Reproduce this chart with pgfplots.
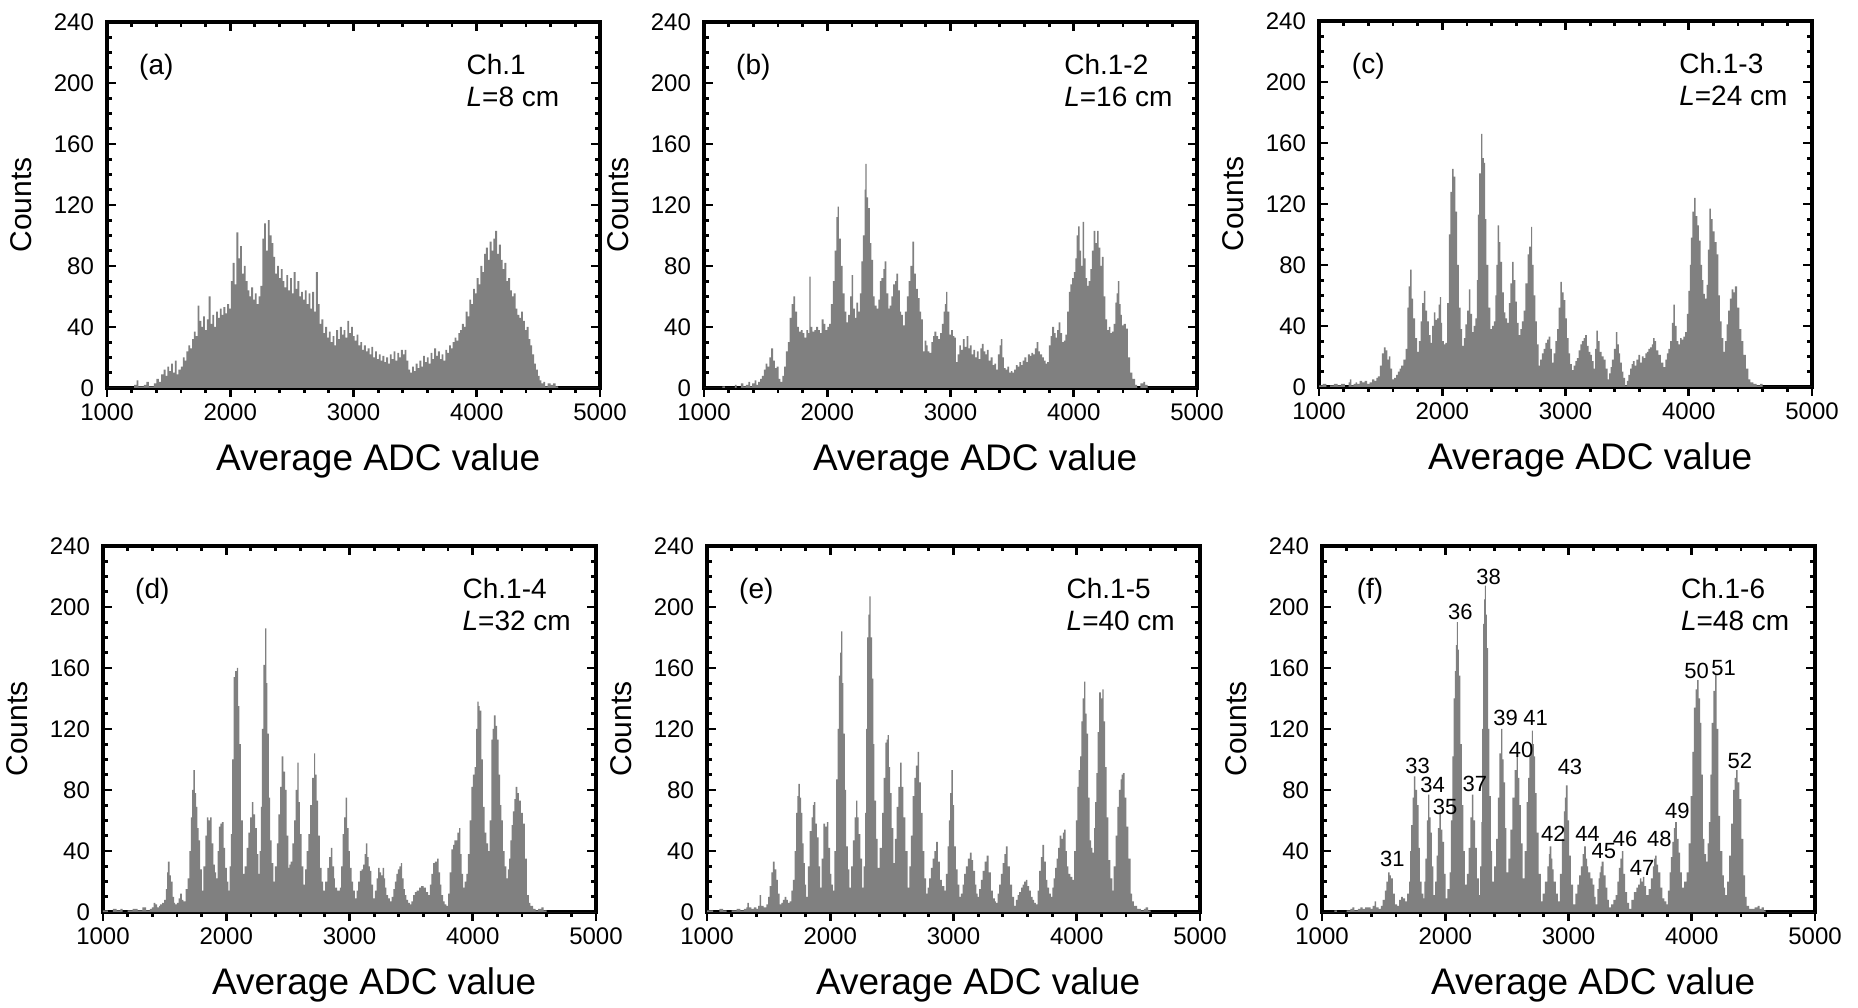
\documentclass[border=0pt]{standalone}
\usepackage{fontspec}
\setmainfont{Liberation Sans}
\usepackage{pgfplots}
\usepackage{pgfplotstable}
\pgfplotsset{compat=1.18}
\definecolor{histgray}{RGB}{128,128,128}

\pgfplotstableread{
x y
1000 0
1220 2
1240 5
1255 1
1300 2
1320 4
1340 1
1380 3
1400 6
1420 4
1440 9
1460 12
1475 8
1490 14
1505 11
1520 16
1535 10
1550 18
1565 9
1580 12
1600 14
1615 20
1630 18
1645 24
1660 28
1675 26
1690 32
1705 37
1720 34
1735 54
1750 44
1765 40
1780 47
1795 38
1810 45
1825 60
1840 42
1855 48
1870 40
1885 50
1900 46
1915 52
1930 48
1945 53
1960 49
1975 55
1990 52
2005 70
2020 82
2035 68
2050 102
2065 85
2080 93
2095 75
2110 80
2125 70
2140 64
2155 60
2170 66
2185 58
2200 62
2215 55
2230 60
2245 67
2260 98
2275 108
2290 90
2305 110
2320 100
2335 95
2350 86
2365 75
2380 80
2395 72
2410 78
2425 70
2440 66
2455 74
2470 64
2485 72
2500 62
2515 76
2530 65
2545 70
2560 60
2575 63
2590 58
2605 64
2620 55
2635 62
2650 52
2665 63
2680 50
2695 76
2710 55
2725 42
2740 45
2755 36
2770 40
2785 33
2800 37
2815 30
2830 34
2845 28
2860 38
2875 32
2890 40
2905 35
2920 38
2935 33
2950 44
2965 36
2980 40
2995 34
3010 31
3025 35
3040 28
3055 30
3070 25
3085 28
3100 24
3115 26
3130 22
3145 27
3160 20
3175 24
3190 19
3205 22
3220 18
3235 21
3250 17
3265 20
3280 16
3295 22
3310 19
3325 24
3340 18
3355 23
3370 20
3385 25
3400 22
3415 25
3430 18
3445 12
3460 10
3475 14
3490 11
3505 16
3520 13
3535 18
3550 14
3565 21
3580 17
3595 20
3610 16
3625 23
3640 19
3655 26
3670 21
3685 24
3700 19
3715 22
3730 18
3745 25
3760 23
3775 28
3790 26
3805 30
3820 33
3835 31
3850 36
3865 38
3880 42
3895 40
3910 50
3925 47
3940 58
3955 55
3970 65
3985 62
4000 72
4015 68
4030 80
4045 76
4060 88
4075 92
4090 84
4105 96
4120 90
4135 98
4150 103
4165 88
4180 94
4195 84
4210 78
4225 82
4240 70
4255 72
4270 64
4285 60
4300 62
4315 52
4330 48
4345 46
4360 50
4375 44
4390 38
4405 40
4420 32
4435 28
4450 22
4465 16
4480 12
4495 8
4510 5
4525 3
4540 4
4555 1
4575 3
4600 2
4620 3
4640 1
4660 0
5000 0
}\dataA

\pgfplotstableread{
x y
1000 0
1150 1
1170 0
1250 2
1265 0
1300 3
1320 1
1340 2
1360 4
1375 1
1390 3
1410 5
1425 2
1440 4
1455 6
1470 8
1485 12
1500 16
1515 14
1530 20
1545 26
1560 18
1575 13
1590 14
1605 6
1620 4
1635 8
1650 14
1665 24
1680 30
1695 46
1710 55
1725 60
1740 50
1755 40
1770 37
1785 38
1800 36
1815 33
1830 38
1845 36
1855 73
1865 40
1880 37
1895 38
1910 40
1925 38
1940 36
1955 45
1970 42
1985 38
2000 40
2015 42
2030 55
2045 70
2060 90
2075 112
2085 119
2095 98
2110 80
2125 62
2140 50
2155 43
2170 48
2185 60
2197 74
2210 52
2225 46
2237 56
2250 50
2264 62
2277 83
2290 100
2303 130
2310 147
2320 125
2331 118
2345 95
2358 84
2372 60
2385 54
2400 52
2415 58
2426 70
2440 72
2455 78
2466 83
2480 62
2495 52
2506 54
2520 60
2535 68
2550 70
2560 75
2575 64
2590 50
2600 48
2614 41
2630 50
2645 60
2660 70
2675 80
2690 96
2705 75
2720 65
2735 59
2750 50
2762 45
2775 24
2790 31
2805 28
2815 24
2829 23
2845 30
2858 34
2870 37
2885 34
2900 32
2915 36
2930 42
2945 50
2955 55
2964 63
2975 50
2990 35
3005 38
3020 34
3031 33
3044 17
3058 22
3071 28
3085 25
3100 32
3115 27
3130 34
3145 26
3158 28
3172 22
3186 25
3200 20
3214 24
3228 19
3242 26
3255 29
3268 24
3282 22
3296 25
3310 18
3325 20
3341 15
3355 16
3370 12
3385 22
3398 28
3408 32
3420 20
3434 13
3448 12
3462 14
3476 10
3490 11
3502 10
3516 12
3530 15
3545 14
3558 17
3572 15
3586 18
3600 20
3615 17
3628 22
3643 21
3656 23
3670 22
3684 26
3698 30
3712 24
3726 22
3744 20
3758 18
3772 16
3784 17
3798 28
3812 34
3825 40
3840 36
3853 33
3866 38
3878 43
3892 36
3905 30
3919 31
3933 35
3946 50
3960 63
3973 68
3986 72
4000 76
4013 85
4024 100
4035 106
4048 90
4060 80
4072 109
4085 85
4096 72
4108 67
4120 70
4135 78
4148 90
4162 103
4175 95
4189 103
4202 92
4215 80
4229 86
4242 60
4256 45
4270 38
4284 40
4297 36
4310 37
4323 42
4337 56
4348 62
4358 70
4370 55
4380 48
4390 41
4405 42
4423 39
4440 20
4458 10
4475 6
4498 2
4515 0
4540 3
4565 4
4580 2
4600 0
5000 0
}\dataB

\pgfplotstableread{
x y
1000 1
1030 2
1060 0
1090 1
1120 2
1150 1
1180 2
1210 0
1240 3
1251 5
1262 1
1280 2
1297 3
1310 2
1330 4
1350 3
1370 4
1390 2
1410 3
1430 5
1450 4
1465 6
1478 7
1494 14
1510 22
1527 26
1540 24
1555 18
1567 20
1580 12
1594 5
1610 6
1625 8
1640 10
1655 12
1667 14
1685 18
1702 25
1716 52
1728 66
1740 77
1752 58
1764 45
1780 32
1797 23
1810 30
1824 43
1837 55
1850 63
1863 50
1878 43
1892 34
1905 29
1918 40
1932 49
1945 44
1959 45
1970 54
1980 59
1990 42
1999 30
2013 28
2026 29
2040 55
2053 100
2066 128
2080 143
2093 138
2107 115
2120 80
2134 52
2148 38
2161 27
2175 32
2188 41
2202 50
2215 64
2228 48
2242 36
2255 40
2269 45
2280 70
2288 113
2300 140
2315 166
2326 150
2337 147
2348 110
2358 80
2375 52
2391 38
2405 40
2418 43
2430 60
2440 80
2450 106
2461 95
2472 82
2485 62
2499 49
2512 45
2526 42
2540 55
2553 68
2566 82
2580 70
2593 56
2606 42
2620 34
2633 38
2646 43
2660 50
2675 68
2693 87
2705 92
2720 105
2730 80
2742 60
2755 43
2768 28
2782 14
2795 18
2809 22
2823 25
2837 29
2850 31
2863 33
2877 25
2890 16
2904 22
2917 30
2931 38
2945 52
2958 69
2970 62
2985 57
2998 45
3012 32
3025 22
3038 15
3052 11
3066 14
3080 17
3093 19
3106 24
3120 28
3133 30
3147 32
3160 34
3174 27
3188 23
3201 21
3214 17
3228 12
3240 25
3250 37
3263 30
3277 23
3293 20
3309 18
3325 12
3341 5
3354 9
3365 13
3376 18
3392 25
3408 36
3420 28
3432 22
3444 16
3458 10
3470 6
3484 1
3497 4
3511 8
3525 12
3537 15
3546 17
3560 14
3575 18
3592 21
3605 16
3620 20
3633 19
3647 22
3660 23
3673 25
3686 26
3700 28
3710 32
3722 30
3735 24
3754 21
3774 16
3794 13
3810 18
3822 22
3835 25
3848 30
3862 42
3875 54
3888 40
3902 30
3915 28
3929 32
3943 31
3956 33
3970 36
3984 48
3997 63
4008 80
4018 98
4030 115
4043 124
4056 112
4069 106
4083 96
4097 80
4108 70
4118 61
4130 58
4145 67
4156 90
4167 117
4180 110
4194 102
4210 95
4226 87
4240 60
4253 43
4266 32
4280 23
4293 30
4307 41
4320 50
4334 58
4348 64
4362 62
4375 66
4392 52
4410 38
4426 30
4443 21
4463 12
4483 5
4500 3
4524 2
4550 1
4578 2
4600 0
5000 0
}\dataC

\pgfplotstableread{
x y
1000 1
1040 0
1080 2
1110 1
1140 2
1160 0
1200 1
1240 2
1280 1
1320 3
1350 1
1380 2
1397 3
1410 6
1424 5
1440 3
1455 4
1464 5
1480 6
1495 8
1510 15
1520 26
1527 33
1540 24
1551 20
1565 10
1578 6
1586 5
1600 6
1614 9
1626 12
1640 8
1653 7
1670 15
1686 22
1700 40
1713 62
1724 80
1734 93
1745 78
1756 69
1765 55
1775 47
1788 28
1802 14
1815 30
1830 50
1842 62
1855 60
1869 62
1882 45
1896 31
1908 26
1918 22
1930 40
1940 56
1952 58
1964 59
1978 42
1991 29
2005 20
2018 14
2028 30
2037 51
2048 100
2059 154
2072 158
2086 160
2096 135
2107 110
2118 60
2134 25
2150 30
2166 42
2180 52
2194 62
2207 72
2220 64
2234 55
2248 38
2261 25
2271 40
2280 69
2290 120
2301 162
2315 186
2325 150
2334 117
2345 75
2355 47
2368 32
2382 20
2395 30
2410 45
2423 64
2437 82
2450 102
2463 92
2477 80
2490 50
2504 29
2513 31
2523 33
2537 45
2550 60
2563 80
2577 98
2588 72
2598 51
2612 30
2625 18
2640 28
2653 40
2666 51
2680 70
2697 88
2712 104
2722 90
2733 73
2746 50
2760 29
2773 20
2787 14
2803 20
2820 29
2835 36
2849 42
2862 30
2875 22
2882 16
2900 14
2922 16
2933 30
2944 51
2956 62
2968 75
2980 55
2992 40
3003 29
3018 20
3030 14
3044 9
3058 14
3071 20
3084 27
3098 28
3111 31
3122 38
3133 45
3145 36
3155 30
3165 27
3178 18
3192 9
3205 14
3220 22
3233 29
3245 26
3256 24
3268 29
3280 22
3290 16
3300 11
3313 9
3327 7
3342 10
3355 15
3368 20
3381 25
3392 28
3405 30
3416 32
3428 22
3440 15
3449 11
3462 8
3475 6
3489 5
3502 7
3516 11
3530 13
3545 14
3564 16
3582 17
3602 16
3620 13
3638 11
3652 18
3665 25
3678 32
3692 33
3711 35
3724 26
3736 18
3746 11
3760 7
3772 5
3786 4
3800 12
3813 26
3827 41
3840 44
3851 47
3862 47
3875 52
3889 55
3900 38
3910 25
3921 16
3935 20
3948 25
3960 38
3975 60
3989 82
4002 90
4016 95
4027 120
4037 138
4047 135
4056 132
4070 100
4083 69
4097 52
4110 45
4124 40
4137 60
4151 113
4162 120
4172 129
4185 122
4197 113
4210 90
4222 70
4232 60
4245 40
4258 30
4272 22
4285 28
4295 35
4305 47
4316 57
4326 66
4337 74
4348 82
4362 78
4375 73
4390 65
4407 58
4422 35
4440 11
4455 6
4467 4
4490 2
4510 1
4530 2
4556 3
4575 1
4600 0
5000 0
}\dataD

\pgfplotstableread{
x y
1000 1
1050 0
1100 2
1130 1
1160 0
1200 1
1240 2
1270 1
1300 2
1319 3
1327 6
1340 3
1360 2
1380 3
1400 2
1414 4
1427 11
1440 4
1460 3
1481 5
1495 10
1508 17
1522 26
1535 33
1548 28
1562 21
1575 12
1589 5
1603 6
1616 8
1629 10
1643 8
1656 6
1670 7
1684 14
1697 21
1710 40
1724 65
1734 76
1742 84
1753 75
1764 65
1774 45
1783 32
1794 18
1805 10
1818 30
1832 53
1848 62
1858 70
1867 72
1880 58
1891 49
1905 30
1918 16
1930 35
1945 58
1958 56
1972 59
1985 42
1999 25
2010 18
2021 14
2034 40
2048 87
2059 120
2070 155
2080 170
2088 184
2098 150
2107 117
2118 80
2129 43
2142 28
2156 16
2170 30
2183 47
2197 62
2210 73
2220 62
2231 51
2245 35
2258 16
2270 30
2283 65
2291 120
2299 180
2309 195
2318 207
2328 180
2340 153
2350 110
2358 73
2372 48
2385 29
2400 42
2420 65
2434 88
2447 111
2457 113
2466 116
2476 95
2485 78
2498 55
2512 32
2525 48
2539 69
2552 82
2566 98
2580 82
2593 62
2610 40
2628 16
2642 30
2655 50
2669 76
2682 88
2695 96
2709 105
2722 85
2736 65
2750 40
2764 22
2777 12
2790 16
2803 22
2817 29
2830 35
2845 40
2858 46
2874 33
2890 21
2905 17
2925 14
2938 25
2952 43
2962 60
2972 78
2982 93
2994 70
3006 43
3020 28
3033 18
3047 10
3060 12
3073 18
3087 25
3100 30
3117 35
3133 39
3147 34
3160 27
3175 18
3186 12
3195 10
3208 15
3222 21
3236 27
3252 33
3268 37
3285 26
3303 14
3320 9
3335 7
3344 6
3358 12
3370 18
3384 25
3398 32
3412 38
3425 43
3440 30
3457 18
3475 10
3492 4
3507 8
3520 11
3533 13
3548 16
3560 18
3573 20
3587 21
3600 17
3614 14
3627 10
3641 8
3655 6
3668 5
3682 14
3695 27
3708 36
3722 44
3735 33
3749 21
3762 16
3775 12
3789 10
3802 16
3813 22
3824 29
3836 35
3849 42
3862 50
3875 48
3887 52
3897 54
3910 40
3920 30
3932 25
3948 23
3965 21
3978 40
3992 60
4005 82
4016 93
4027 102
4038 125
4048 140
4059 151
4070 130
4081 117
4093 75
4105 47
4116 42
4127 39
4140 55
4150 72
4159 91
4170 118
4181 144
4195 140
4208 146
4219 125
4230 95
4243 62
4256 34
4272 22
4289 14
4300 30
4315 50
4329 69
4342 80
4356 87
4365 90
4375 91
4388 75
4402 56
4418 35
4437 12
4450 7
4464 4
4490 2
4520 1
4545 2
4559 3
4580 1
4600 0
5000 0
}\dataE

\pgfplotstableread{
x y
1000 0
1100 1
1120 0
1200 1
1230 2
1247 3
1262 1
1290 2
1312 3
1330 2
1350 3
1378 3
1395 2
1410 4
1427 7
1440 3
1460 2
1477 4
1492 8
1510 14
1522 20
1536 26
1548 24
1559 22
1575 12
1592 5
1610 4
1625 8
1641 10
1657 9
1674 7
1690 12
1707 20
1715 40
1723 57
1735 75
1746 89
1758 80
1772 70
1784 42
1795 20
1808 12
1822 9
1830 20
1838 35
1850 60
1861 77
1871 62
1881 52
1892 30
1904 11
1917 20
1930 37
1941 55
1953 65
1965 54
1976 46
1990 25
2003 9
2018 15
2035 26
2046 60
2058 102
2068 140
2078 158
2087 175
2095 190
2103 172
2111 155
2122 110
2134 70
2147 40
2160 18
2175 25
2190 42
2203 62
2216 77
2229 60
2242 42
2257 22
2272 11
2282 30
2292 59
2300 120
2308 189
2315 205
2321 214
2330 195
2338 173
2348 120
2358 76
2370 40
2380 20
2396 30
2413 48
2427 75
2440 104
2453 120
2463 100
2473 85
2485 55
2496 26
2512 35
2529 54
2545 75
2562 93
2578 102
2590 88
2601 70
2614 45
2627 22
2643 40
2660 72
2672 88
2683 102
2693 110
2703 119
2711 110
2719 102
2730 78
2742 52
2758 25
2775 7
2790 12
2808 20
2828 30
2840 38
2847 43
2860 35
2870 28
2880 20
2897 12
2913 7
2930 25
2946 48
2962 66
2970 75
2979 83
2992 60
3005 37
3020 18
3038 5
3055 12
3071 18
3087 24
3100 30
3115 38
3127 43
3140 35
3150 30
3160 26
3178 22
3196 18
3210 10
3219 5
3235 15
3245 22
3252 26
3260 30
3268 33
3285 24
3301 16
3315 8
3327 3
3345 5
3365 8
3383 11
3397 20
3409 29
3421 35
3433 40
3446 25
3459 13
3475 6
3492 2
3510 8
3531 13
3550 16
3565 18
3580 22
3592 20
3603 23
3616 17
3630 11
3650 15
3669 22
3685 30
3695 35
3702 37
3715 31
3728 26
3745 16
3761 9
3778 7
3794 5
3807 14
3820 26
3831 36
3843 46
3855 55
3866 59
3880 48
3893 39
3906 26
3919 16
3938 20
3958 26
3975 45
3991 76
4004 105
4018 134
4031 146
4044 152
4056 140
4067 124
4078 90
4090 48
4103 38
4117 33
4128 45
4139 59
4150 90
4162 124
4175 145
4189 156
4202 120
4215 63
4230 40
4248 24
4260 16
4271 11
4287 20
4303 37
4320 58
4336 80
4348 88
4360 93
4373 85
4386 74
4402 48
4418 24
4432 10
4445 4
4465 2
4484 2
4510 3
4534 4
4550 2
4566 3
4585 1
4600 0
5000 0
}\dataF

\tikzset{
  lab/.style={font=\fontsize{14}{16}\selectfont, inner sep=0pt},
  pk/.style={font=\fontsize{11}{13}\selectfont, inner sep=0pt},
}

\pgfplotsset{
  baseax/.style={
    scale only axis, width=246.5pt, height=183pt,
    xmin=1000, xmax=5000, ymin=0, ymax=240,
    anchor=south west,
    axis line style={line width=1.8pt},
    every tick/.style={line width=1.4pt, black},
    major tick length=4.5pt, minor tick length=2.3pt,
    xtick={1000,2000,3000,4000,5000},
    minor x tick num=4,
  },
  mainax/.style={
    baseax,
    tick align=inside,
    ytick={0,40,80,120,160,200,240},
    minor y tick num=3,
    xtick pos=right, xticklabel pos=left,
    ytick pos=both, yticklabel pos=left,
    scaled ticks=false,
    /pgf/number format/assume math mode=true,
    /pgf/number format/set thousands separator={},
    ticklabel style={font=\fontsize{12}{14}\selectfont},
    xticklabel style={yshift=-4.5pt},
    yticklabel style={xshift=-3pt},
    xlabel={Average ADC value},
    ylabel={Counts},
    xlabel style={font=\fontsize{18.5}{21}\selectfont, at={(axis description cs:0.55,-0.2)}, anchor=center},
    ylabel style={font=\fontsize{15}{18}\selectfont, at={(axis description cs:-0.1744,0.5)}, anchor=center},
  },
  overax/.style={
    baseax,
    tick align=outside,
    xtick pos=left, xticklabels={},
    ytick=\empty,
    axis line style={draw=none},
  },
  hist/.style={const plot, fill=histgray, draw=none},
}

\begin{document}
\begin{tikzpicture}
\useasboundingbox (0,0) rectangle (929pt,503.5pt);

% (a)
\begin{axis}[overax, at={(53.5pt,309.5pt)}]\end{axis}
\begin{axis}[mainax, at={(53.5pt,309.5pt)}]
\addplot[hist] table {\dataA} \closedcycle;
\node[lab] at (axis cs:1400,210) {(a)};
\node[lab, anchor=west] at (axis cs:3915,212) {Ch.1};
\node[lab, anchor=west] at (axis cs:3915,191) {\textit{L}=8 cm};
\end{axis}

% (b)
\begin{axis}[overax, at={(352pt,309.5pt)}]\end{axis}
\begin{axis}[mainax, at={(352pt,309.5pt)}]
\addplot[hist] table {\dataB} \closedcycle;
\node[lab] at (axis cs:1400,210) {(b)};
\node[lab, anchor=west] at (axis cs:3920,212) {Ch.1-2};
\node[lab, anchor=west] at (axis cs:3920,191) {\textit{L}=16 cm};
\end{axis}

% (c)
\begin{axis}[overax, at={(659.5pt,310pt)}]\end{axis}
\begin{axis}[mainax, at={(659.5pt,310pt)}]
\addplot[hist] table {\dataC} \closedcycle;
\node[lab] at (axis cs:1400,210) {(c)};
\node[lab, anchor=west] at (axis cs:3920,212) {Ch.1-3};
\node[lab, anchor=west] at (axis cs:3920,191) {\textit{L}=24 cm};
\end{axis}

% (d)
\begin{axis}[overax, at={(51.5pt,47.5pt)}]\end{axis}
\begin{axis}[mainax, at={(51.5pt,47.5pt)}]
\addplot[hist] table {\dataD} \closedcycle;
\node[lab] at (axis cs:1400,210) {(d)};
\node[lab, anchor=west] at (axis cs:3915,212) {Ch.1-4};
\node[lab, anchor=west] at (axis cs:3915,191) {\textit{L}=32 cm};
\end{axis}

% (e)
\begin{axis}[overax, at={(353.5pt,47.5pt)}]\end{axis}
\begin{axis}[mainax, at={(353.5pt,47.5pt)}]
\addplot[hist] table {\dataE} \closedcycle;
\node[lab] at (axis cs:1400,210) {(e)};
\node[lab, anchor=west] at (axis cs:3915,212) {Ch.1-5};
\node[lab, anchor=west] at (axis cs:3915,191) {\textit{L}=40 cm};
\end{axis}

% (f)
\begin{axis}[overax, at={(661pt,47.5pt)}]\end{axis}
\begin{axis}[mainax, at={(661pt,47.5pt)}]
\addplot[hist] table {\dataF} \closedcycle;
\node[lab] at (axis cs:1390,210) {(f)};
\node[lab, anchor=west] at (axis cs:3910,212) {Ch.1-6};
\node[lab, anchor=west] at (axis cs:3910,191) {\textit{L}=48 cm};
\node[pk] at (axis cs:1570,35) {31};
\node[pk] at (axis cs:1775,96) {33};
\node[pk] at (axis cs:1898,83) {34};
\node[pk] at (axis cs:1998,69) {35};
\node[pk] at (axis cs:2122,197) {36};
\node[pk] at (axis cs:2241,84) {37};
\node[pk] at (axis cs:2352,220) {38};
\node[pk] at (axis cs:2490,127) {39};
\node[pk] at (axis cs:2616,106) {40};
\node[pk] at (axis cs:2733,127) {41};
\node[pk] at (axis cs:2877,51) {42};
\node[pk] at (axis cs:3012,95) {43};
\node[pk] at (axis cs:3154,51) {44};
\node[pk] at (axis cs:3287,40) {45};
\node[pk] at (axis cs:3460,48) {46};
\node[pk] at (axis cs:3597,29) {47};
\node[pk] at (axis cs:3738,48) {48};
\node[pk] at (axis cs:3884,66) {49};
\node[pk] at (axis cs:4040,158) {50};
\node[pk] at (axis cs:4258,160) {51};
\node[pk] at (axis cs:4390,99) {52};
\end{axis}
\end{tikzpicture}
\end{document}
